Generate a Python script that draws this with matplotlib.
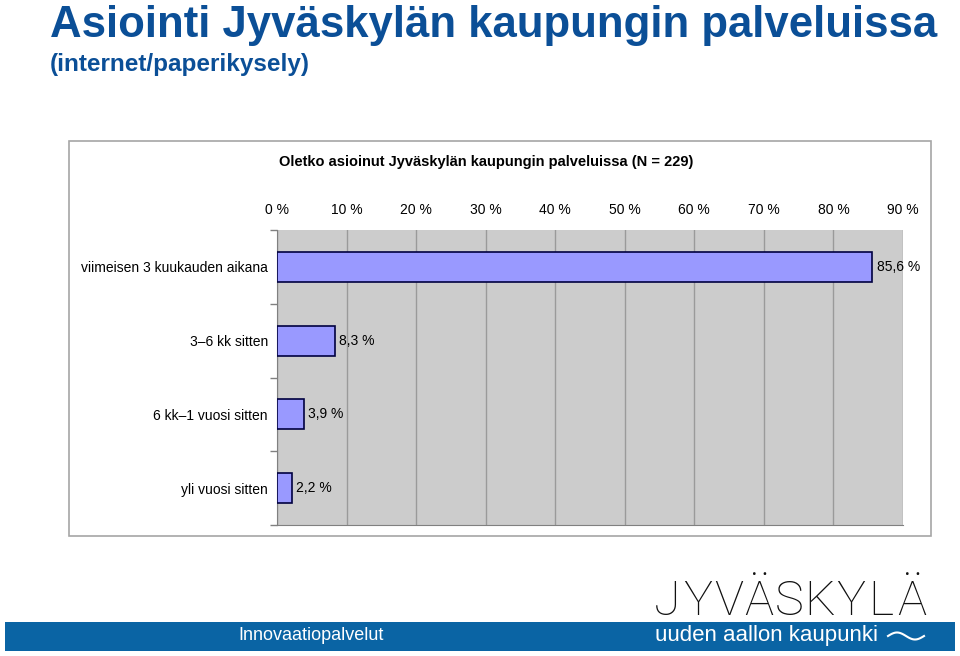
import matplotlib
matplotlib.use("Agg")
import matplotlib.pyplot as plt
import numpy as np
from matplotlib.patches import Rectangle

categories = ["viimeisen 3 kuukauden aikana", "3\u20136 kk sitten", "6 kk\u20131 vuosi sitten", "yli vuosi sitten"]
values = [85.6, 8.3, 3.9, 2.2]
xticks = [0, 10, 20, 30, 40, 50, 60, 70, 80, 90]

W, H = 960, 656
fig = plt.figure(figsize=(W / 100, H / 100), dpi=100)
fig.patch.set_facecolor("white")

def fx(x):
    return x / W

def fy(y):
    return 1 - y / H

narrow = ["Liberation Sans Narrow", "Liberation Sans", "DejaVu Sans"]
sans = ["Liberation Sans", "DejaVu Sans"]
title_col = "#0b4f97"

fig.text(fx(50), fy(37), "Asiointi Jyväskylän kaupungin palveluissa", family=narrow,
         fontsize=31.5, fontweight="bold", color=title_col, va="baseline", ha="left")
fig.text(fx(50), fy(71), "(internet/paperikysely)", family=narrow,
         fontsize=17.5, fontweight="bold", color=title_col, va="baseline", ha="left")

# chart frame
fig.patches.append(Rectangle((fx(69), fy(536)), fx(931) - fx(69), fy(141) - fy(536),
                             transform=fig.transFigure, fill=False, edgecolor="#a6a6a6", lw=1.2))

fig.text(fx(486), fy(162), "Oletko asioinut Jyväskylän kaupungin palveluissa (N = 229)",
         family=sans, fontsize=10.5, fontweight="bold", ha="center", va="center")

ax = fig.add_axes([fx(277), fy(525), fx(903) - fx(277), fy(230) - fy(525)])
ax.set_facecolor("#cccccc")
ax.set_xlim(0, 90)
ax.set_ylim(len(categories) - 0.5, -0.5)
ypos = np.arange(len(categories))
ax.barh(ypos, values, height=0.41, color="#9999ff", edgecolor="#000040", lw=1.2, zorder=3)
for y, v in zip(ypos, values):
    ax.text(v + 0.6, y, f"{v:.1f} %".replace(".", ","), va="center", ha="left",
            family=sans, fontsize=10, zorder=4)

ax.xaxis.tick_top()
ax.set_xticks(xticks)
ax.set_xticklabels([f"{t} %" for t in xticks], family=sans, fontsize=10)
ax.tick_params(axis="x", length=0, pad=9.5)
ax.set_yticks(ypos)
ax.set_yticklabels(categories, family=sans, fontsize=10)
ax.tick_params(axis="y", length=0, pad=6.5)
ax.set_yticks(np.arange(-0.5, len(categories), 1.0), minor=True)
ax.tick_params(axis="y", which="minor", length=5, color="#808080", width=1)
ax.grid(axis="x", color="#9a9a9a", lw=1, zorder=1)
for s in ["top", "right"]:
    ax.spines[s].set_visible(False)
ax.spines["left"].set_color("#808080")
ax.spines["bottom"].set_color("#808080")

# footer banner
fig.patches.append(Rectangle((fx(5), fy(651)), fx(955) - fx(5), fy(622) - fy(651),
                             transform=fig.transFigure, color="#0a64a4", lw=0))
fig.text(fx(238), fy(636), "Innovaatiopalvelut", family=narrow, fontsize=13, color="white",
         ha="left", va="center")
fig.text(fx(655), fy(635), "uuden aallon kaupunki", family=narrow, fontsize=16, color="white",
         ha="left", va="center")
tx = np.linspace(888, 924, 60)
tyy = 636 - 3.5 * np.sin((tx - 888) / 36 * 2 * np.pi)
fig.lines.append(plt.Line2D(fx(tx), fy(tyy), transform=fig.transFigure, color="white", lw=1.5))

logo = "JYVÄSKYLÄ"
for i, ch in enumerate(logo):
    cx = 667 + i * 30.6
    fig.text(fx(cx), fy(615), ch, family=["Roboto", "DejaVu Sans"], fontsize=35, fontweight="light",
             color="#111111", ha="center", va="baseline")

fig.savefig("out.png", dpi=100)
